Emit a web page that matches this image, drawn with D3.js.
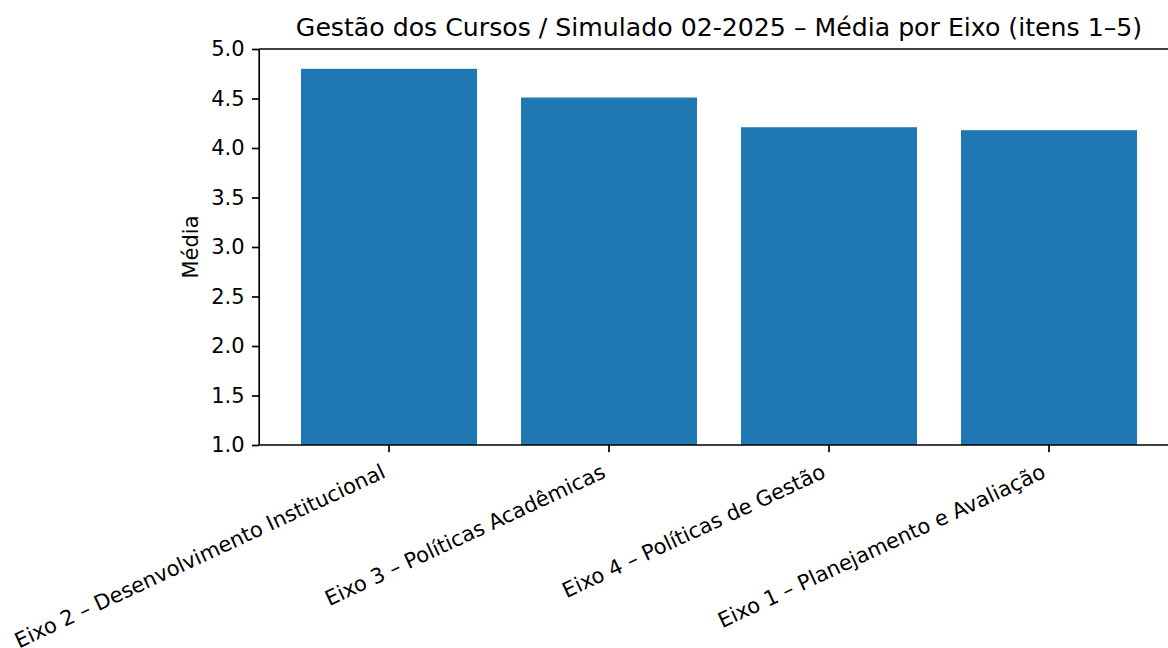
<!DOCTYPE html>
<html>
<head>
<meta charset="utf-8">
<script src="https://cdn.jsdelivr.net/npm/d3@7"></script>
<style>
  body { margin: 0; background: #fff; }
  svg { font-family: "DejaVu Sans", sans-serif; }
</style>
</head>
<body>
<svg width="1168" height="648"></svg>
<script>
// data
var categories = [
  "Eixo 2 – Desenvolvimento Institucional",
  "Eixo 3 – Políticas Acadêmicas",
  "Eixo 4 – Políticas de Gestão",
  "Eixo 1 – Planejamento e Avaliação"
];
var medias = [4.80, 4.51, 4.21, 4.18];
var yTicks = [1.0, 1.5, 2.0, 2.5, 3.0, 3.5, 4.0, 4.5, 5.0];

var titleText = "Gestão dos Cursos / Simulado 02-2025 – Média por Eixo (itens 1–5)";

var svg = d3.select("svg"),
    margin = {top: 49, left: 259.2},
    width  = 919.6,
    height = 396,
    tickLen = 7.3,
    fontSize = 21,
    lw = 1.7;

var x = d3.scaleLinear().domain([-0.59, 3.59]).range([0, width]),
    y = d3.scaleLinear().domain([1, 5]).range([height, 0]);

var g = svg.append("g")
           .attr("transform", "translate(" + margin.left + "," + margin.top + ")");

// bars
g.selectAll("rect.bar")
  .data(medias)
  .enter().append("rect")
  .attr("class", "bar")
  .attr("x", function(d, i) { return x(i - 0.4); })
  .attr("width", function(d, i) { return x(i + 0.4) - x(i - 0.4); })
  .attr("y", function(d) { return y(d); })
  .attr("height", function(d) { return y(1) - y(d); })
  .attr("fill", "#1f77b4");

// y axis
var yAxis = d3.axisLeft(y)
  .tickValues(yTicks)
  .tickFormat(d3.format(".1f"))
  .tickSizeOuter(0)
  .tickSize(tickLen)
  .tickPadding(tickLen);

var yg = g.append("g").call(yAxis);
yg.select(".domain").remove();
yg.selectAll("line").attr("stroke", "#000").attr("stroke-width", lw);
yg.selectAll("text").attr("font-size", fontSize + "px").attr("fill", "#000")
  .attr("font-family", "DejaVu Sans");

// x ticks
var xg = g.append("g").attr("transform", "translate(0," + height + ")");
xg.selectAll("line")
  .data(categories)
  .enter().append("line")
  .attr("x1", function(d, i) { return x(i); })
  .attr("x2", function(d, i) { return x(i); })
  .attr("y1", 0).attr("y2", tickLen)
  .attr("stroke", "#000").attr("stroke-width", lw);

// rotated labels: right edge at the tick, top edge below it (ha='right', rotation=25)
xg.selectAll("text")
  .data(categories)
  .enter().append("text")
  .attr("font-size", fontSize + "px")
  .attr("text-anchor", "end")
  .attr("fill", "#000")
  .text(function(d) { return d; })
  .each(function(d, i) {
    var t = d3.select(this);
    t.attr("transform", "rotate(-25)");
    var b = this.getBoundingClientRect();
    var dx = (margin.left + x(i)) - b.right;
    var dy = (margin.top + height + 2 * tickLen) - b.top;
    t.attr("transform", "translate(" + dx + "," + dy + ") rotate(-25)");
  });

// spines
g.append("line").attr("x1", 0).attr("x2", 0).attr("y1", 0).attr("y2", height)
  .attr("stroke", "#000").attr("stroke-width", lw);
g.append("line").attr("x1", 0).attr("x2", width).attr("y1", height).attr("y2", height)
  .attr("stroke", "#000").attr("stroke-width", lw);
g.append("line").attr("x1", 0).attr("x2", width).attr("y1", 0).attr("y2", 0)
  .attr("stroke", "#000").attr("stroke-width", lw);
g.append("line").attr("x1", width).attr("x2", width).attr("y1", 0).attr("y2", height)
  .attr("stroke", "#000").attr("stroke-width", lw);

// y label
svg.append("text")
  .attr("transform", "translate(198," + (margin.top + height / 2) + ") rotate(-90)")
  .attr("text-anchor", "middle")
  .attr("font-size", fontSize + "px")
  .text("Média");

// title
svg.append("text")
  .attr("x", margin.left + width / 2)
  .attr("y", 36.4)
  .attr("text-anchor", "middle")
  .attr("font-size", "25.2px")
  .text(titleText);
</script>
</body>
</html>
